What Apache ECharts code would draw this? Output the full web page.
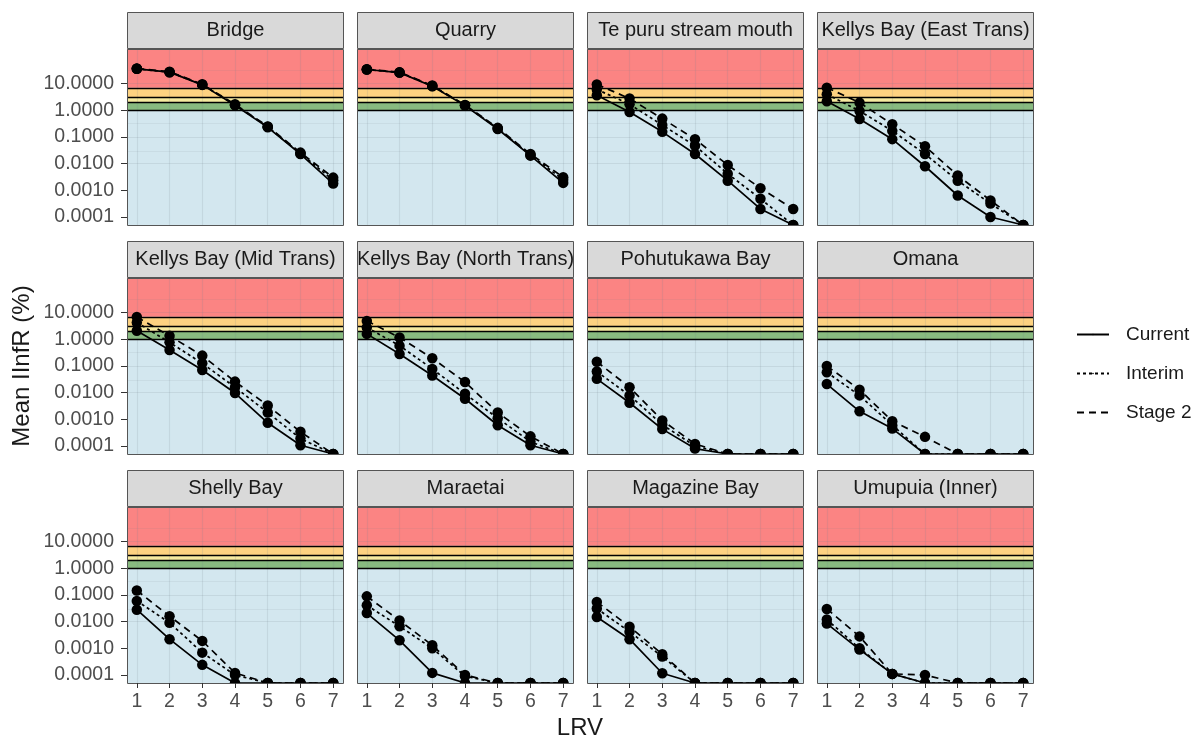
<!DOCTYPE html>
<html>
<head>
<meta charset="utf-8">
<title>Mean IInfR by LRV</title>
<script src="https://cdn.jsdelivr.net/npm/echarts@6/dist/echarts.min.js"></script>
<style>
  html, body { margin: 0; padding: 0; background: #ffffff; }
  #chart { width: 1197px; height: 735px; }
</style>
</head>
<body>
<div id="chart"></div>
<script>
// Log reduction values on the x axis
const LRV = [1, 2, 3, 4, 5, 6, 7];

// One facet per site
const SITES = [
  'Bridge', 'Quarry', 'Te puru stream mouth', 'Kellys Bay (East Trans)',
  'Kellys Bay (Mid Trans)', 'Kellys Bay (North Trans)', 'Pohutukawa Bay', 'Omana',
  'Shelly Bay', 'Maraetai', 'Magazine Bay', 'Umupuia (Inner)'
];

// Mean IInfR (%) per site and LRV; 0 = none, plotted on the lower edge of the log axis
const CURRENT = [
  [36, 27, 9.0, 1.55, 0.23, 0.023, 0.0018],
  [34, 26, 8.0, 1.5, 0.20, 0.020, 0.0019],
  [3.7, 0.87, 0.156, 0.023, 0.0023, 0.0002, 0],
  [2.2, 0.47, 0.083, 0.008, 0.00064, 0.0001, 0],
  [2.1, 0.40, 0.071, 0.0097, 0.00074, 0.000107, 0],
  [1.6, 0.28, 0.044, 0.0059, 0.0006, 0.000107, 0],
  [0.033, 0.0042, 0.00043, 0.00008, 0, 0, 0],
  [0.021, 0.0020, 0.00045, 0, 0, 0, 0],
  [0.028, 0.0022, 0.00024, 0, 0, 0, 0],
  [0.021, 0.0020, 0.00012, 0, 0, 0, 0],
  [0.015, 0.0022, 0.000116, 0, 0, 0, 0],
  [0.0085, 0.0009, 0.00011, 0, 0, 0, 0]
];
const INTERIM = [
  [36, 27, 9.2, 1.6, 0.24, 0.024, 0.0024],
  [34, 26, 8.2, 1.55, 0.21, 0.021, 0.0025],
  [6.1, 1.69, 0.28, 0.047, 0.0042, 0.00048, 0],
  [4.0, 0.95, 0.17, 0.023, 0.0023, 0.00032, 0],
  [4.3, 0.77, 0.126, 0.016, 0.0018, 0.00019, 0],
  [2.8, 0.58, 0.078, 0.0091, 0.0011, 0.000144, 0],
  [0.062, 0.0079, 0.00063, 0.0001, 0, 0, 0],
  [0.058, 0.0079, 0.0006, 0, 0, 0, 0],
  [0.060, 0.0091, 0.00069, 0.0001, 0, 0, 0],
  [0.041, 0.0067, 0.0010, 0.00009, 0, 0, 0],
  [0.031, 0.0042, 0.00049, 0, 0, 0, 0],
  [0.012, 0.0010, 0.00011, 0, 0, 0, 0]
];
const STAGE2 = [
  [37, 28, 9.5, 1.7, 0.25, 0.026, 0.0030],
  [35, 27, 8.5, 1.6, 0.22, 0.023, 0.0031],
  [9.4, 2.78, 0.49, 0.083, 0.0089, 0.0012, 0.0002],
  [7.1, 1.95, 0.30, 0.045, 0.0036, 0.00042, 0],
  [6.9, 1.35, 0.245, 0.026, 0.0033, 0.00034, 0],
  [4.9, 1.17, 0.195, 0.025, 0.0018, 0.00023, 0],
  [0.145, 0.016, 0.00091, 0.00012, 0, 0, 0],
  [0.10, 0.013, 0.00085, 0.00022, 0, 0, 0],
  [0.148, 0.016, 0.0019, 0.00012, 0, 0, 0],
  [0.089, 0.011, 0.0013, 0.0001, 0, 0, 0],
  [0.055, 0.0065, 0.0006, 0, 0, 0, 0],
  [0.030, 0.0028, 0.00011, 0.0001, 0, 0, 0]
];

const SCENARIOS = ['Current', 'Interim', 'Stage 2'];
const Y_TICKS = [0.0001, 0.001, 0.01, 0.1, 1, 10];
const THRESHOLDS = [1, 2, 3, 7];

// ---- styling / layout ----
const FONT = '"Liberation Sans", Arial, Helvetica, sans-serif';
const Y_MIN = Math.pow(10, -4.3);
const Y_MAX = Math.pow(10, 2.3);
const X_MIN = 0.7, X_MAX = 7.3;
const COL_LEFT = [127, 357, 587, 817];
const ROW_TOP = [49, 278, 507];
const PW = 216, PH = 176, STRIP_H = 37;
const BORDER = '#555555';
const TICK_FONT = 19.5, STRIP_FONT = 20, TITLE_FONT = 24;

// risk bands, bottom to top
const bandColours = ['#d3e7ef', '#88ba80', '#f6eaa0', '#fdd281', '#fb8483'];
const bandEdges = [Y_MIN].concat(THRESHOLDS, [Y_MAX]);

const DASH = ['solid', [3, 3], [7, 5]];
const ICONS = [
  'path://M0 0H32V2H0Z',
  'path://M0 0H3.5V2H0Z M9.5 0H13V2H9.5Z M19 0H22.5V2H19Z M28.5 0H32V2H28.5Z',
  'path://M0 0H9.5V2H0Z M14 0H23.5V2H14Z M28.5 0H32V2H28.5Z'
];

const grids = [], xAxes = [], yAxes = [], series = [], graphics = [];

SITES.forEach((site, i) => {
  const r = Math.floor(i / 4), c = i % 4;
  const left = COL_LEFT[c], top = ROW_TOP[r];
  const bottomRow = r === 2, leftCol = c === 0;

  grids.push({ left: left, top: top, width: PW, height: PH, show: false });

  xAxes.push({
    gridIndex: i, type: 'value', min: X_MIN, max: X_MAX, z: 22,
    axisLine: { show: false }, splitLine: { show: false },
    axisTick: { show: bottomRow, customValues: LRV, length: 5, lineStyle: { color: '#333333', width: 1 } },
    axisLabel: { show: bottomRow, customValues: LRV, margin: 9, fontSize: TICK_FONT, color: '#4d4d4d', fontFamily: FONT }
  });
  yAxes.push({
    gridIndex: i, type: 'log', logBase: 10, min: Y_MIN, max: Y_MAX,
    axisLine: { show: false }, splitLine: { show: false },
    axisTick: { show: leftCol, customValues: Y_TICKS, length: 6, lineStyle: { color: '#333333', width: 1 } },
    axisLabel: {
      show: leftCol, customValues: Y_TICKS, margin: 13, fontSize: TICK_FONT, color: '#4d4d4d', fontFamily: FONT,
      formatter: v => Number(v).toFixed(4)
    }
  });

  // coloured bands
  series.push({
    type: 'line', xAxisIndex: i, yAxisIndex: i, data: [], silent: true, z: 1,
    markArea: {
      silent: true,
      data: bandColours.map((col, k) => [
        { yAxis: bandEdges[k], itemStyle: { color: col, opacity: 1 } },
        { yAxis: bandEdges[k + 1] }
      ])
    }
  });

  // panel grid lines (decades, half decades, integer LRV)
  const gridData = [];
  Y_TICKS.forEach(v => gridData.push({ yAxis: v, lineStyle: { color: 'rgba(120,130,140,0.16)', width: 1.1, type: 'solid' } }));
  Y_TICKS.forEach(v => gridData.push({ yAxis: v * Math.sqrt(10), lineStyle: { color: 'rgba(120,130,140,0.13)', width: 0.8, type: 'solid' } }));
  LRV.forEach(x => gridData.push({ xAxis: x, lineStyle: { color: 'rgba(120,130,140,0.16)', width: 1.1, type: 'solid' } }));
  series.push({
    type: 'line', xAxisIndex: i, yAxisIndex: i, data: [], silent: true, z: 2,
    markLine: { silent: true, symbol: ['none', 'none'], label: { show: false }, animation: false, data: gridData }
  });

  // threshold lines between bands
  series.push({
    type: 'line', xAxisIndex: i, yAxisIndex: i, data: [], silent: true, z: 3,
    markLine: {
      silent: true, symbol: ['none', 'none'], label: { show: false }, animation: false,
      lineStyle: { color: '#000000', width: 1.3, type: 'solid' },
      data: THRESHOLDS.map(t => ({ yAxis: t }))
    }
  });

  [CURRENT, INTERIM, STAGE2].forEach((src, k) => {
    series.push({
      name: SCENARIOS[k], type: 'line', xAxisIndex: i, yAxisIndex: i, z: 5,
      data: LRV.map((x, j) => [x, src[i][j] > 0 ? src[i][j] : Y_MIN]),
      symbol: 'circle', symbolSize: 10.5, showSymbol: true, clip: true,
      legendIcon: ICONS[k],
      itemStyle: { color: '#000000' },
      lineStyle: { color: '#000000', width: 1.7, type: DASH[k] },
      emphasis: { disabled: true }
    });
  });

  // strip with the site name
  graphics.push({
    type: 'rect', shape: { x: left + 0.5, y: top - STRIP_H + 0.5, width: PW, height: STRIP_H - 1 },
    style: { fill: '#d9d9d9', stroke: BORDER, lineWidth: 1 }, z: 21
  });
  graphics.push({
    type: 'text', x: left + PW / 2 + 0.5, y: top - STRIP_H / 2, z: 23,
    clipPath: { type: 'rect', shape: { x: -PW / 2 + 1, y: -STRIP_H / 2, width: PW - 1, height: STRIP_H } },
    style: { text: site, fontSize: STRIP_FONT, fontFamily: FONT, fill: '#1a1a1a', textAlign: 'center', textVerticalAlign: 'middle' }
  });
  // white strip under the panel so edge points look cut by the panel
  graphics.push({
    type: 'rect', shape: { x: left - 2, y: top + PH + 0.5, width: PW + 4, height: 7 },
    style: { fill: '#ffffff' }, z: 20
  });
  // panel border
  graphics.push({
    type: 'rect', shape: { x: left + 0.5, y: top + 0.5, width: PW, height: PH },
    style: { fill: 'none', stroke: BORDER, lineWidth: 1 }, z: 21
  });
});

// axis titles
graphics.push({
  type: 'text', x: 22, y: 366, rotation: Math.PI / 2, z: 23,
  style: { text: 'Mean IInfR (%)', fontSize: TITLE_FONT, fontFamily: FONT, fill: '#1a1a1a', textAlign: 'center', textVerticalAlign: 'middle' }
});
graphics.push({
  type: 'text', x: 580, y: 728, z: 23,
  style: { text: 'LRV', fontSize: TITLE_FONT, fontFamily: FONT, fill: '#1a1a1a', textAlign: 'center', textVerticalAlign: 'middle' }
});

const chart = echarts.init(document.getElementById('chart'), null, { renderer: 'canvas' });
chart.setOption({
  animation: false,
  backgroundColor: '#ffffff',
  grid: grids,
  xAxis: xAxes,
  yAxis: yAxes,
  legend: {
    data: SCENARIOS, orient: 'vertical', left: 1071, top: 320,
    itemWidth: 32, itemHeight: 2, itemGap: 20, selectedMode: false,
    textStyle: { fontSize: 19, color: '#1a1a1a', fontFamily: FONT, padding: [0, 0, 0, 12] }
  },
  series: series,
  graphic: graphics
});
</script>
</body>
</html>
